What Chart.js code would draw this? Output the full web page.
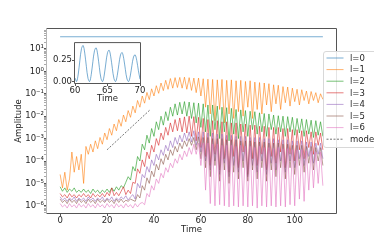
<!DOCTYPE html>
<html>
<head>
<meta charset="utf-8">
<script src="https://cdn.jsdelivr.net/npm/chart.js@4.4.1/dist/chart.umd.min.js"></script>
<style>
  html, body { margin: 0; padding: 0; background: #fff; }
  #wrap { position: relative; width: 374px; height: 240px; overflow: hidden; }
  #main { position: absolute; left: 0; top: 0; }
  #inset { position: absolute; left: 48px; top: 38px; }
</style>
</head>
<body>
<div id="wrap">
  <canvas id="main" width="374" height="240"></canvas>
  <canvas id="inset" width="100" height="66"></canvas>
</div>
<script>
// time samples of the main plot (one per time unit)
const times = Array.from({ length: 113 }, (_, i) => i);

// amplitudes, stored as log10 exponents
const l0Times = [0, 112];
const l0Values = [35, 35];

const l1Log = [
  -4.6, -5.2, -4.5, -5.3, -4.8, -3.6, -4.5, -3.8, -4.4, -3.7,
  -5.0, -3.35, -3.7, -3.25, -3.6, -3.1, -3.45, -2.95, -3.25, -2.75,
  -3.05, -2.55, -2.85, -2.35, -2.65, -2.15, -2.45, -1.95, -2.25, -1.75,
  -2.05, -1.55, -1.85, -1.3, -1.6, -1.1, -1.42, -0.94, -1.26, -0.78,
  -1.1, -0.64, -0.98, -0.52, -0.86, -0.4, -0.8, -0.32, -0.75, -0.28,
  -0.72, -0.27, -0.75, -0.26, -0.8, -0.28, -0.85, -0.3, -0.95, -0.3,
  -1.1, -0.33, -1.6, -0.35, -1.9, -0.36, -2.2, -0.38, -1.7, -0.36,
  -2.3, -0.4, -1.9, -0.38, -2.1, -0.42, -1.8, -0.4, -2.0, -0.45,
  -1.6, -0.42, -2.1, -0.48, -1.7, -0.5, -1.9, -0.52, -1.5, -0.55,
  -1.8, -0.6, -1.45, -0.62, -1.7, -0.68, -1.4, -0.7, -1.55, -0.75,
  -1.35, -0.8, -1.5, -0.82, -1.3, -0.88, -1.45, -0.9, -1.3, -0.95,
  -1.4, -1.0, -1.25
];
const l2Log = [
  -5.15, -5.35, -5.2, -5.4, -5.25, -5.35, -5.2, -5.4, -5.3, -5.4,
  -5.25, -5.4, -5.3, -5.45, -5.25, -5.4, -5.3, -5.45, -5.3, -5.4,
  -5.25, -5.4, -5.2, -5.35, -5.15, -5.3, -5.1, -5.2, -4.95, -4.7,
  -4.85, -4.25, -4.45, -3.8, -4.0, -3.25, -3.5, -2.85, -3.2, -2.55,
  -2.9, -2.25, -2.6, -2.0, -2.4, -1.8, -2.2, -1.6, -2.0, -1.45,
  -1.95, -1.38, -1.9, -1.35, -2.0, -1.37, -2.1, -1.4, -2.3, -1.42,
  -2.5, -1.45, -2.7, -1.5, -2.9, -1.5, -2.6, -1.55, -3.0, -1.6,
  -2.7, -1.62, -3.1, -1.65, -2.8, -1.7, -3.0, -1.72, -2.7, -1.75,
  -2.9, -1.78, -2.6, -1.8, -2.8, -1.85, -2.7, -1.88, -2.9, -1.9,
  -2.6, -1.95, -2.8, -1.98, -2.7, -2.0, -2.9, -2.02, -2.7, -2.05,
  -2.85, -2.1, -2.75, -2.12, -2.9, -2.15, -2.8, -2.18, -2.95, -2.2,
  -2.85, -2.25, -2.9
];
const l3Log = [
  -5.45, -5.6, -5.5, -5.65, -5.45, -5.6, -5.5, -5.65, -5.5, -5.6,
  -5.45, -5.6, -5.5, -5.65, -5.45, -5.6, -5.5, -5.6, -5.45, -5.6,
  -5.4, -5.55, -5.2, -5.55, -5.4, -5.55, -5.35, -5.15, -5.5, -5.3,
  -5.45, -4.95, -5.0, -4.35, -4.55, -3.95, -4.25, -3.6, -3.9, -3.3,
  -3.6, -3.0, -3.3, -2.75, -3.05, -2.5, -2.85, -2.3, -2.7, -2.15,
  -2.65, -2.08, -2.7, -2.03, -2.75, -2.0, -2.9, -2.02, -3.1, -2.05,
  -3.4, -2.1, -3.8, -2.15, -4.2, -2.2, -3.7, -2.2, -4.4, -2.25,
  -3.9, -2.25, -4.5, -2.3, -3.8, -2.3, -4.3, -2.35, -3.6, -2.35,
  -4.6, -2.4, -3.9, -2.4, -4.2, -2.45, -3.7, -2.45, -4.4, -2.5,
  -3.8, -2.5, -4.1, -2.5, -3.6, -2.55, -4.3, -2.55, -3.7, -2.6,
  -4.0, -2.6, -3.5, -2.65, -3.9, -2.65, -3.4, -2.7, -3.7, -2.7,
  -3.3, -2.75, -3.5
];
const l4Log = [
  -5.6, -5.75, -5.65, -5.8, -5.65, -5.75, -5.6, -5.8, -5.65, -5.75,
  -5.65, -5.8, -5.6, -5.75, -5.65, -5.8, -5.65, -5.75, -5.6, -5.8,
  -5.65, -5.75, -5.6, -5.8, -5.65, -5.75, -5.6, -5.7, -5.55, -5.75,
  -5.6, -5.5, -5.7, -5.0, -5.2, -4.6, -4.75, -4.25, -4.5, -3.95,
  -4.2, -3.7, -3.95, -3.5, -3.75, -3.3, -3.55, -3.1, -3.4, -2.95,
  -3.25, -2.85, -3.15, -2.75, -3.1, -2.7, -3.15, -2.65, -3.3, -2.7,
  -3.6, -2.7, -4.0, -2.75, -4.4, -2.75, -4.0, -2.8, -4.6, -2.8,
  -4.1, -2.85, -4.7, -2.85, -4.2, -2.9, -4.5, -2.9, -4.0, -2.9,
  -4.7, -2.95, -4.2, -2.95, -4.5, -2.95, -4.0, -3.0, -4.6, -3.0,
  -4.1, -3.0, -4.4, -3.05, -4.0, -3.05, -4.5, -3.05, -4.0, -3.1,
  -4.3, -3.1, -3.9, -3.1, -4.2, -3.15, -3.8, -3.15, -4.1, -3.2,
  -3.7, -3.2, -3.9
];
const l5Log = [
  -5.7, -5.85, -5.75, -5.9, -5.7, -5.85, -5.75, -5.9, -5.7, -5.85,
  -5.75, -5.9, -5.7, -5.85, -5.75, -5.9, -5.7, -5.85, -5.75, -5.85,
  -5.7, -5.85, -5.75, -5.9, -5.7, -5.85, -5.7, -5.85, -5.75, -5.8,
  -5.7, -5.75, -5.8, -5.5, -5.65, -5.1, -5.3, -4.75, -5.0, -4.45,
  -4.7, -4.15, -4.4, -3.9, -4.15, -3.7, -3.95, -3.5, -3.75, -3.35,
  -3.6, -3.2, -3.45, -3.1, -3.35, -3.0, -3.3, -2.95, -3.5, -2.92,
  -3.9, -2.95, -4.3, -2.95, -4.7, -3.0, -4.2, -3.0, -4.9, -3.0,
  -4.4, -3.05, -5.0, -3.05, -4.5, -3.05, -4.8, -3.1, -4.3, -3.1,
  -4.9, -3.1, -4.4, -3.15, -4.8, -3.15, -4.3, -3.15, -4.9, -3.2,
  -4.4, -3.2, -4.7, -3.2, -4.3, -3.25, -4.8, -3.25, -4.3, -3.3,
  -4.6, -3.3, -4.2, -3.3, -4.5, -3.35, -4.1, -3.35, -4.4, -3.4,
  -4.0, -3.4, -4.2
];
const l6Log = [
  -5.9, -6.05, -5.95, -6.1, -5.9, -6.05, -5.95, -6.1, -5.9, -6.05,
  -5.95, -6.1, -5.9, -6.05, -5.95, -6.1, -5.9, -6.05, -5.95, -6.1,
  -5.9, -6.05, -5.95, -6.1, -5.9, -6.05, -5.95, -6.1, -5.9, -6.05,
  -5.95, -6.1, -5.9, -6.05, -5.9, -5.85, -5.95, -5.45, -5.6, -5.1,
  -5.3, -4.8, -5.0, -4.55, -4.75, -4.3, -4.5, -4.1, -4.3, -3.9,
  -4.1, -3.7, -3.95, -3.55, -3.8, -3.4, -3.7, -3.25, -3.7, -3.2,
  -4.2, -3.2, -5.3, -3.2, -5.9, -3.25, -6.0, -3.25, -5.95, -3.3,
  -6.0, -3.3, -6.05, -3.3, -6.0, -3.35, -6.05, -3.3, -6.0, -3.35,
  -6.05, -3.35, -6.0, -3.4, -6.1, -3.35, -6.0, -3.4, -6.05, -3.4,
  -6.0, -3.45, -6.05, -3.4, -6.0, -3.45, -6.05, -3.45, -5.95, -3.5,
  -6.0, -3.5, -5.7, -3.5, -5.8, -3.55, -5.3, -3.55, -5.2, -3.6,
  -5.0, -3.6, -5.1
];
const modeTimes = [20, 38.5];
const modeLog = [-3.5, -1.7];

// inset: l=0 signal between t=60 and t=70
const insetTimes = Array.from({ length: 41 }, (_, i) => 60 + i * 0.25);
const insetValues = [
  0.042, 0.003, 0.088, 0.246, 0.382, 0.417, 0.330, 0.174, 0.039, 0.002,
  0.083, 0.231, 0.358, 0.390, 0.309, 0.163, 0.037, 0.002, 0.077, 0.215,
  0.334, 0.363, 0.287, 0.151, 0.034, 0.002, 0.072, 0.200, 0.309, 0.336,
  0.266, 0.140, 0.031, 0.002, 0.066, 0.184, 0.285, 0.310, 0.245, 0.129,
  0.029
];

const legendLabels = ['l=0', 'l=1', 'l=2', 'l=3', 'l=4', 'l=5', 'l=6', 'mode'];
const xTickValues = [0, 20, 40, 60, 80, 100];
const insetXTicks = [60, 65, 70];
const insetYTicks = [0, 0.25];

const colors = [
  'rgba(31,119,180,0.6)',
  'rgba(255,127,14,0.6)',
  'rgba(44,160,44,0.65)',
  'rgba(214,39,40,0.6)',
  'rgba(148,103,189,0.6)',
  'rgba(140,86,75,0.6)',
  'rgba(227,119,194,0.6)',
  'rgba(70,70,70,0.75)'
];

const FONT = { family: 'DejaVu Sans', size: 8.5 };
const TEXT = '#262626';
const SUP = { '-': '\u207b', '0': '\u2070', '1': '\u00b9', '2': '\u00b2', '3': '\u00b3',
  '4': '\u2074', '5': '\u2075', '6': '\u2076', '7': '\u2077', '8': '\u2078', '9': '\u2079' };

function isPow10(v) {
  const e = Math.round(Math.log10(v));
  return Math.abs(v / Math.pow(10, e) - 1) < 1e-6;
}

function powLabel(v) {
  if (!isPow10(v)) return '';
  const e = String(Math.round(Math.log10(v)));
  return '10' + e.split('').map(c => SUP[c]).join('');
}

function toPoints(xs, logs) {
  return logs.map((e, i) => ({ x: xs[i], y: Math.pow(10, e) }));
}

// matplotlib-like box around the plot area
const framePlugin = {
  id: 'frame',
  afterDatasetsDraw(chart, args, opts) {
    const { ctx, chartArea: a } = chart;
    ctx.save();
    ctx.lineWidth = 1;
    ctx.strokeStyle = opts.color;
    ctx.beginPath();
    ctx.moveTo(a.left - 0.5, a.top - 0.5);
    ctx.lineTo(a.right + 0.5, a.top - 0.5);
    ctx.lineTo(a.right + 0.5, a.bottom + 0.5);
    ctx.lineTo(a.left - 0.5, a.bottom + 0.5);
    ctx.stroke();
    ctx.strokeStyle = opts.leftColor;
    ctx.beginPath();
    ctx.moveTo(a.left - 0.5, a.top - 0.5);
    ctx.lineTo(a.left - 0.5, a.bottom + 0.5);
    ctx.stroke();
    ctx.restore();
  }
};

const whiteAreaPlugin = {
  id: 'whiteArea',
  beforeDraw(chart) {
    const { ctx, chartArea: a } = chart;
    ctx.save();
    ctx.fillStyle = '#fff';
    ctx.fillRect(a.left, a.top, a.right - a.left, a.bottom - a.top);
    ctx.restore();
  }
};

// legend box in the upper right, overlapping the axes edge
const legendPlugin = {
  id: 'boxLegend',
  afterDraw(chart) {
    const { ctx } = chart;
    ctx.save();
    ctx.beginPath();
    ctx.roundRect(323.5, 51.5, 70, 96, 2.5);
    ctx.fillStyle = 'rgba(255,255,255,0.85)';
    ctx.fill();
    ctx.lineWidth = 1;
    ctx.strokeStyle = '#d8d8d8';
    ctx.stroke();
    ctx.font = `${FONT.size}px "${FONT.family}"`;
    ctx.textBaseline = 'middle';
    legendLabels.forEach((label, i) => {
      const y = 58 + i * 11.6;
      ctx.strokeStyle = colors[i];
      ctx.setLineDash(label === 'mode' ? [2, 1.5] : []);
      ctx.beginPath();
      ctx.moveTo(326.5, y);
      ctx.lineTo(343.5, y);
      ctx.stroke();
      ctx.setLineDash([]);
      ctx.fillStyle = TEXT;
      ctx.fillText(label, 350, y + 0.5);
    });
    ctx.restore();
  }
};

const seriesLogs = [l1Log, l2Log, l3Log, l4Log, l5Log, l6Log];
const datasets = [{
  label: legendLabels[0],
  data: l0Times.map((t, i) => ({ x: t, y: l0Values[i] }))
}];
seriesLogs.forEach((logs, i) => {
  datasets.push({ label: legendLabels[i + 1], data: toPoints(times, logs) });
});
datasets.push({ label: 'mode', data: toPoints(modeTimes, modeLog), borderDash: [2, 1.5] });
datasets.forEach((ds, i) => {
  ds.borderColor = colors[i];
  ds.borderWidth = 1;
  ds.pointRadius = 0;
  ds.tension = 0;
  ds.order = datasets.length - i; // later series on top, like matplotlib
});

new Chart(document.getElementById('main'), {
  type: 'line',
  data: { datasets },
  options: {
    responsive: false,
    animation: false,
    events: [],
    layout: { padding: { left: 0, top: 29, right: 38, bottom: 0 } },
    plugins: {
      legend: { display: false },
      tooltip: { enabled: false },
      frame: { color: '#555', leftColor: '#b5b5b5' }
    },
    scales: {
      x: {
        type: 'linear',
        min: -5.6,
        max: 117.6,
        afterBuildTicks: s => { s.ticks = xTickValues.map(v => ({ value: v })); },
        afterFit: s => { s.height = 27; },
        border: { display: false },
        grid: { drawOnChartArea: false, tickLength: 3, tickColor: '#555' },
        ticks: { font: FONT, color: TEXT, padding: 0, maxRotation: 0, autoSkip: false, callback: v => String(v) },
        title: { display: true, text: 'Time', font: FONT, color: TEXT, padding: { top: 0, bottom: 5 } }
      },
      y: {
        type: 'logarithmic',
        min: Math.pow(10, -6.32),
        max: Math.pow(10, 1.89),
        afterBuildTicks: s => {
          const ticks = [];
          for (let e = -7; e <= 1; e++) {
            for (let k = 1; k <= 9; k++) {
              const v = k * Math.pow(10, e);
              if (v >= s.min && v <= s.max) ticks.push({ value: v });
            }
          }
          s.ticks = ticks;
        },
        afterFit: s => { s.width = 47; },
        border: { display: false },
        grid: {
          drawOnChartArea: false,
          tickLength: 3,
          tickColor: ctx => (ctx.tick && isPow10(ctx.tick.value) ? '#555' : '#aaa')
        },
        ticks: { font: FONT, color: TEXT, padding: 0, autoSkip: false, callback: v => powLabel(v) },
        title: { display: true, text: 'Amplitude', font: FONT, color: TEXT, padding: { top: 14, bottom: 0 } }
      }
    }
  },
  plugins: [framePlugin, legendPlugin]
});

new Chart(document.getElementById('inset'), {
  type: 'line',
  data: {
    datasets: [{
      data: insetTimes.map((t, i) => ({ x: t, y: insetValues[i] })),
      borderColor: colors[0],
      borderWidth: 1,
      pointRadius: 0,
      tension: 0.35
    }]
  },
  options: {
    responsive: false,
    animation: false,
    events: [],
    layout: { padding: { left: 0, top: 4, right: 8, bottom: 0 } },
    plugins: {
      legend: { display: false },
      tooltip: { enabled: false },
      frame: { color: '#555', leftColor: '#555' }
    },
    scales: {
      x: {
        type: 'linear',
        min: 60,
        max: 70,
        afterBuildTicks: s => { s.ticks = insetXTicks.map(v => ({ value: v })); },
        afterFit: s => { s.height = 21; },
        border: { display: false },
        grid: { drawOnChartArea: false, tickLength: 3, tickColor: '#555' },
        ticks: { font: FONT, color: TEXT, padding: 0, maxRotation: 0, autoSkip: false, callback: v => String(v) },
        title: { display: true, text: 'Time', font: FONT, color: TEXT, padding: { top: 0, bottom: 0 } }
      },
      y: {
        type: 'linear',
        min: -0.015,
        max: 0.445,
        afterBuildTicks: s => { s.ticks = insetYTicks.map(v => ({ value: v })); },
        afterFit: s => { s.width = 27; },
        border: { display: false },
        grid: { drawOnChartArea: false, tickLength: 3, tickColor: '#555' },
        ticks: { font: FONT, color: TEXT, padding: 0, autoSkip: false, callback: v => v.toFixed(2) }
      }
    }
  },
  plugins: [whiteAreaPlugin, framePlugin]
});
</script>
</body>
</html>
